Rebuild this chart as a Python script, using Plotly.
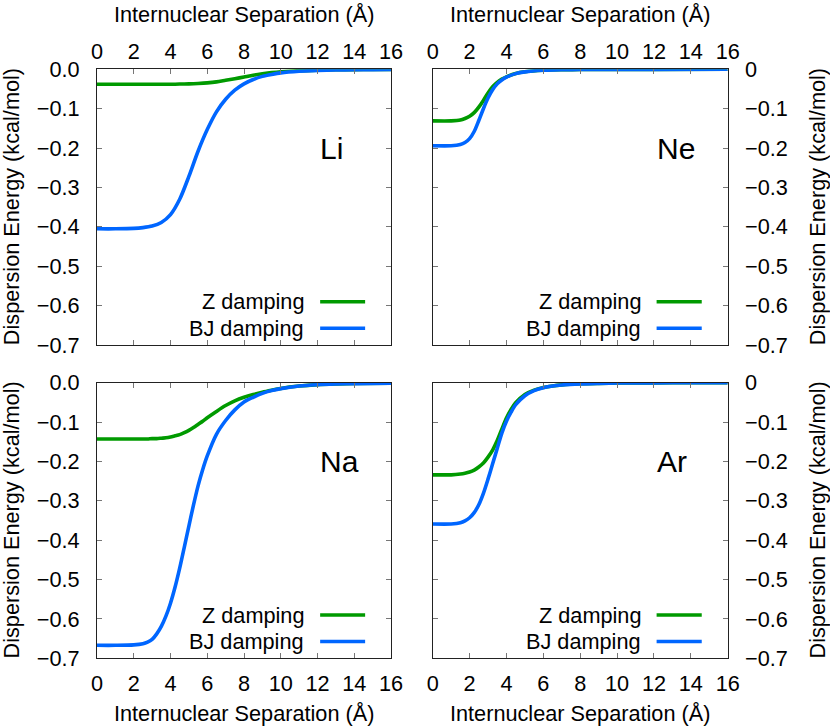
import plotly.graph_objects as go

# ---------------- data ----------------
li_x = [0, 1, 2, 2.5, 3, 3.5, 4, 4.5, 5, 5.5, 6, 6.5, 7, 7.5, 8, 8.5, 9, 9.5, 10, 11, 12, 13, 14, 15, 16]
li_bj = [-0.405, -0.405, -0.404, -0.402, -0.398, -0.389, -0.369, -0.330, -0.272, -0.208, -0.153, -0.108,
         -0.076, -0.053, -0.037, -0.026, -0.018, -0.013, -0.009, -0.005, -0.003, -0.0018, -0.0011, -0.0007, -0.0005]
li_z = [-0.038, -0.038, -0.038, -0.038, -0.038, -0.038, -0.038, -0.0375, -0.037, -0.036, -0.0345, -0.032,
        -0.028, -0.024, -0.0195, -0.015, -0.0115, -0.0085, -0.0063, -0.0035, -0.002, -0.0012, -0.0008, -0.0005, -0.0003]

ne_x = [0, 1, 1.5, 1.75, 2, 2.25, 2.5, 2.75, 3, 3.25, 3.5, 3.75, 4, 4.5, 5, 6, 7, 8, 10, 12, 16]
ne_bj = [-0.194, -0.194, -0.191, -0.186, -0.176, -0.158, -0.130, -0.100, -0.073, -0.052, -0.037, -0.027,
         -0.020, -0.011, -0.0065, -0.0025, -0.0011, -0.0005, -0.0002, -0.0001, 0.0]
ne_z = [-0.131, -0.131, -0.129, -0.125, -0.119, -0.110, -0.096, -0.079, -0.060, -0.044, -0.033, -0.025,
        -0.019, -0.0105, -0.0062, -0.0024, -0.0011, -0.0005, -0.0002, -0.0001, 0.0]

na_x = [0, 1, 2, 2.5, 2.75, 3, 3.25, 3.5, 3.75, 4, 4.25, 4.5, 4.75, 5, 5.25, 5.5, 5.75, 6, 6.5, 7, 7.5, 8, 8.5, 9,
        9.5, 10, 11, 12, 13, 14, 16]
na_bj = [-0.667, -0.667, -0.666, -0.663, -0.659, -0.652, -0.638, -0.619, -0.593, -0.560, -0.519, -0.471, -0.418,
         -0.364, -0.311, -0.262, -0.221, -0.186, -0.131, -0.096, -0.069, -0.049, -0.037, -0.027, -0.020,
         -0.015, -0.0085, -0.0052, -0.0034, -0.0023, -0.0011]
na_z = [-0.143, -0.143, -0.143, -0.143, -0.143, -0.142, -0.142, -0.141, -0.140, -0.138, -0.135, -0.132, -0.127,
        -0.121, -0.114, -0.106, -0.098, -0.089, -0.073, -0.058, -0.046, -0.037, -0.030, -0.024, -0.019,
        -0.0145, -0.0085, -0.005, -0.0033, -0.0022, -0.001]

ar_x = [0, 1, 1.5, 1.75, 2, 2.25, 2.5, 2.75, 3, 3.25, 3.5, 3.75, 4, 4.25, 4.5, 5, 5.5, 6, 6.5, 7, 8, 9, 10, 12, 14, 16]
ar_bj = [-0.359, -0.359, -0.356, -0.351, -0.343, -0.330, -0.310, -0.281, -0.245, -0.206, -0.167, -0.128,
         -0.098, -0.075, -0.056, -0.033, -0.020, -0.013, -0.0085, -0.0058, -0.0029, -0.0016, -0.0009,
         -0.0004, -0.0002, -0.0001]
ar_z = [-0.234, -0.234, -0.232, -0.230, -0.227, -0.222, -0.214, -0.204, -0.189, -0.171, -0.147, -0.118,
        -0.090, -0.068, -0.051, -0.030, -0.019, -0.0125, -0.0082, -0.0056, -0.0028, -0.0016, -0.0009,
        -0.0004, -0.0002, -0.0001]

x_ticks = [0, 2, 4, 6, 8, 10, 12, 14, 16]
y_ticks = [0.0, -0.1, -0.2, -0.3, -0.4, -0.5, -0.6, -0.7]
y_labels_left = ["0.0", "\u22120.1", "\u22120.2", "\u22120.3", "\u22120.4", "\u22120.5", "\u22120.6", "\u22120.7"]
y_labels_right = ["0", "\u22120.1", "\u22120.2", "\u22120.3", "\u22120.4", "\u22120.5", "\u22120.6", "\u22120.7"]

elements = ["Li", "Ne", "Na", "Ar"]
series_names = ["Z damping", "BJ damping"]
x_title = "Internuclear Separation (\u00c5)"
y_title = "Dispersion Energy (kcal/mol)"

# ---------------- styling ----------------
W, H = 830, 727
FONT = "Liberation Sans, Arial, Helvetica, sans-serif"
GREEN = "#009a00"
BLUE = "#0066ff"
LW = 3.6
FS = 21.7

panels = [
    (li_x, li_z, li_bj, "top", "left", 97, 391, 69.3, 345.0),
    (ne_x, ne_z, ne_bj, "top", "right", 432.7, 727.7, 69.3, 345.0),
    (na_x, na_z, na_bj, "bottom", "left", 97, 391, 382.7, 658.3),
    (ar_x, ar_z, ar_bj, "bottom", "right", 432.7, 727.7, 382.7, 658.3),
]

fig = go.Figure()
layout = dict(
    width=W, height=H, autosize=False,
    margin=dict(l=0, r=0, t=0, b=0, pad=0, autoexpand=False),
    paper_bgcolor="white", plot_bgcolor="white",
    showlegend=False,
    font=dict(family=FONT, size=FS, color="black"),
)
annotations = []
shapes = []

for i, (xs, zs, bjs, xside, yside, L, R, T, B) in enumerate(panels):
    n = i + 1
    xa = "x" if n == 1 else f"x{n}"
    ya = "y" if n == 1 else f"y{n}"
    fig.add_trace(go.Scatter(x=xs, y=zs, mode="lines", name=series_names[0],
                             line=dict(color=GREEN, width=LW, shape="spline", smoothing=0.8),
                             xaxis=xa, yaxis=ya))
    fig.add_trace(go.Scatter(x=xs, y=bjs, mode="lines", name=series_names[1],
                             line=dict(color=BLUE, width=LW, shape="spline", smoothing=0.8),
                             xaxis=xa, yaxis=ya))
    xkey = "xaxis" if n == 1 else f"xaxis{n}"
    ykey = "yaxis" if n == 1 else f"yaxis{n}"
    layout[xkey] = dict(
        domain=[L / W, R / W], anchor=ya, side=xside, range=[0, 16], automargin=False,
        tickvals=x_ticks, ticktext=[str(v) for v in x_ticks],
        ticks="inside", ticklen=5, tickwidth=1, tickcolor="#777",
        showline=True, linecolor="#222", linewidth=1, mirror="allticks",
        showgrid=False, zeroline=False, ticklabelstandoff=1 if xside == "top" else 6,
        tickfont=dict(family=FONT, size=FS, color="black"),
    )
    layout[ykey] = dict(
        domain=[1 - B / H, 1 - T / H], anchor=xa, side=yside, range=[-0.7, 0], automargin=False,
        tickvals=y_ticks, ticktext=y_labels_left if yside == "left" else y_labels_right,
        ticks="inside", ticklen=5, tickwidth=1, tickcolor="#777",
        showline=True, linecolor="#222", linewidth=1, mirror="allticks",
        showgrid=False, zeroline=False, ticklabelstandoff=12,
        tickfont=dict(family=FONT, size=FS, color="black"),
    )
    xd = f"{xa} domain"
    yd = f"{ya} domain"
    annotations.append(dict(text=elements[i], xref=xd, yref=yd, x=0.752, y=0.713,
                            xanchor="left", yanchor="middle", showarrow=False,
                            font=dict(family=FONT, size=30, color="black")))
    for name, col, ly in [(series_names[0], GREEN, 0.157), (series_names[1], BLUE, 0.061)]:
        annotations.append(dict(text=name, xref=xd, yref=yd, x=0.712, y=ly,
                                xanchor="right", yanchor="middle", showarrow=False,
                                font=dict(family=FONT, size=FS, color="black")))
        shapes.append(dict(type="line", xref=xd, yref=yd, x0=0.759, x1=0.912, y0=ly, y1=ly,
                           line=dict(color=col, width=LW)))
    cx = (L + R) / 2 / W
    ty = 15 if xside == "top" else 713
    annotations.append(dict(text=x_title, xref="paper", yref="paper", x=cx, y=1 - ty / H,
                            xanchor="center", yanchor="middle", showarrow=False,
                            font=dict(family=FONT, size=FS, color="black")))
    cy = 1 - (T + B) / 2 / H
    tx = 11 if yside == "left" else 817
    annotations.append(dict(text=y_title, xref="paper", yref="paper", x=tx / W, y=cy,
                            xanchor="center", yanchor="middle", textangle=-90, showarrow=False,
                            font=dict(family=FONT, size=FS, color="black")))

layout["annotations"] = annotations
layout["shapes"] = shapes
fig.update_layout(**layout)
fig.write_html("out.html",
               config={"displayModeBar": False},
               post_script="document.body.style.margin='0';document.body.style.overflow='hidden';")
